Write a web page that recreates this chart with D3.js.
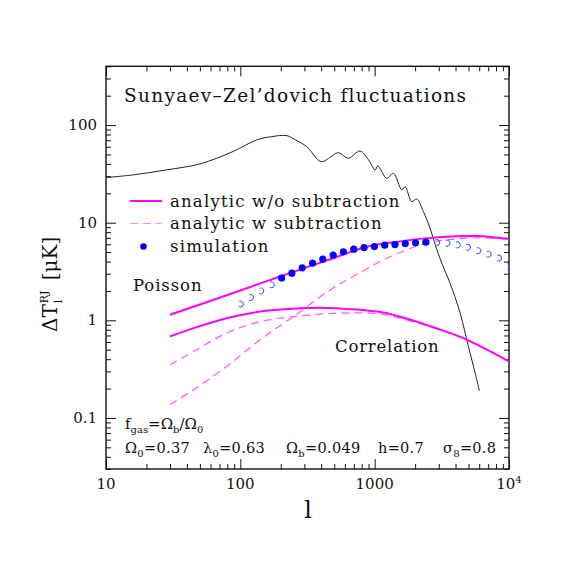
<!DOCTYPE html>
<html>
<head>
<meta charset="utf-8">
<script src="https://cdn.jsdelivr.net/npm/d3@7"></script>
<style>
  html, body { margin: 0; padding: 0; background: #fff; }
  text { font-family: "DejaVu Serif", "Liberation Serif", serif; fill: #111; }
</style>
</head>
<body>
<svg id="chart" width="575" height="575"></svg>
<script>
// primary CMB curve (black)
const cmbL = [10, 16, 28, 50, 88, 132, 170, 222, 260, 312, 399, 470, 537, 637, 778, 900, 1007, 1055, 1231, 1378, 1592, 1684, 1889, 2058, 2304, 2585, 2817, 3159, 3642, 4324, 4986, 5593, 6020];
const cmbT = [29.0, 30.9, 34.7, 40.0, 53.5, 70.4, 76, 77.9, 70, 60.1, 42.2, 47, 52.2, 45.7, 54.3, 44, 34.7, 38.1, 28.5, 32.1, 21.7, 23.4, 16.4, 17.5, 13.0, 8.8, 6.0, 3.85, 2.40, 1.19, 0.54, 0.29, 0.19];

// analytic curves
const poisL = [30, 100, 197, 400, 778, 1000, 1500, 2500, 4000, 6000, 10000];
const poisNoSub = [1.14, 2.02, 2.81, 3.92, 5.40, 5.9, 6.4, 6.95, 7.25, 7.3, 6.8];
const poisSubL = [30, 45, 79, 140, 248, 465, 655, 1100, 1460, 2585, 4000, 6000, 10000];
const poisSub = [0.137, 0.195, 0.337, 0.632, 1.09, 2.05, 2.70, 4.0, 4.8, 6.3, 6.8, 7.0, 6.8];

const corrL = [30, 45, 79, 140, 280, 450, 780, 1160, 1550, 2060, 2735, 4575, 10000];
const corrNoSub = [0.683, 0.832, 1.05, 1.23, 1.33, 1.34, 1.28, 1.2, 1.09, 0.97, 0.85, 0.657, 0.38];
const corrSub = [0.35, 0.48, 0.74, 0.97, 1.11, 1.17, 1.19, 1.15, 1.05, 0.94, 0.84, 0.65, 0.38];

// simulation points
const simL = [203, 242, 289, 345, 411, 491, 585, 699, 834, 995, 1187, 1416, 1690, 2016, 2405];
const simT = [2.71, 3.04, 3.45, 3.85, 4.23, 4.65, 5.03, 5.36, 5.56, 5.69, 5.89, 5.97, 6.11, 6.22, 6.32];
const simOpenL = [100, 119, 142, 170, 2895, 3454, 4121, 4916, 5865, 6997, 8348, 9960];
const simOpenT = [1.47, 1.71, 2.00, 2.31, 6.27, 6.17, 5.93, 5.59, 5.17, 4.76, 4.34, 3.55];

const xTicks = [10, 100, 1000, 10000];
const yTicks = [0.1, 1, 10, 100];
const yTickLabels = ["0.1", "1", "10", "100"];

const svg = d3.select("#chart");
const frame = {left: 106, right: 509, top: 66.3, bottom: 469};

const x = d3.scaleLog().domain([10, 1e4]).range([frame.left, frame.right]);
const y = d3.scaleLog().domain([0.03, 400]).range([frame.bottom, frame.top]);

const magenta = "#ff00ff";
const lightMagenta = "#ff55ff";

svg.append("clipPath").attr("id", "plot")
  .append("rect").attr("x", frame.left).attr("y", frame.top)
  .attr("width", frame.right - frame.left).attr("height", frame.bottom - frame.top);

// minor tick values
const minorX = [];
for (let d = 10; d < 1e4; d *= 10) for (let k = 2; k <= 9; k++) minorX.push(d * k);
const minorY = [];
for (let d = 0.01; d < 1000; d *= 10) for (let k = 2; k <= 9; k++) {
  const v = +(d * k).toPrecision(3);
  if (v >= 0.03 && v <= 400) minorY.push(v);
}

function tickRow(gen, pos, len, vals) {
  svg.append("g").attr("transform", pos)
    .call(gen.tickValues(vals).tickSizeInner(len).tickSizeOuter(0).tickFormat(""))
    .call(g => g.select(".domain").remove())
    .call(g => g.selectAll("line").attr("stroke", "#111").attr("stroke-width", 1));
}
tickRow(d3.axisBottom(x), `translate(0,${frame.bottom})`, -10, xTicks);
tickRow(d3.axisBottom(x), `translate(0,${frame.bottom})`, -5, minorX);
tickRow(d3.axisTop(x), `translate(0,${frame.top})`, -10, xTicks);
tickRow(d3.axisTop(x), `translate(0,${frame.top})`, -5, minorX);
tickRow(d3.axisLeft(y), `translate(${frame.left},0)`, -10, yTicks);
tickRow(d3.axisLeft(y), `translate(${frame.left},0)`, -5, minorY);
tickRow(d3.axisRight(y), `translate(${frame.right},0)`, -10, yTicks);
tickRow(d3.axisRight(y), `translate(${frame.right},0)`, -5, minorY);

svg.append("rect").attr("x", frame.left).attr("y", frame.top)
  .attr("width", frame.right - frame.left).attr("height", frame.bottom - frame.top)
  .attr("fill", "none").attr("stroke", "#111").attr("stroke-width", 1.4);

// tick labels
xTicks.forEach(v => {
  const t = svg.append("text").attr("x", x(v)).attr("y", 489)
    .attr("text-anchor", "middle").attr("font-size", 15);
  if (v === 10000) {
    t.append("tspan").text("10");
    t.append("tspan").text("4").attr("font-size", 10).attr("dy", -6);
  } else t.text(v);
});
yTicks.forEach((v, i) => {
  svg.append("text").attr("x", 97).attr("y", y(v) + 5)
    .attr("text-anchor", "end").attr("font-size", 15).text(yTickLabels[i]);
});

// axis titles
svg.append("text").attr("x", 308).attr("y", 518).attr("text-anchor", "middle")
  .attr("font-size", 24).text("l");

const yl = svg.append("g").attr("transform", "translate(57,332) rotate(-90)");
const dt = yl.append("text").attr("x", 0).attr("y", 0).attr("font-size", 20).text("ΔT");
const dtw = dt.node().getComputedTextLength();
yl.append("text").attr("x", dtw + 1).attr("y", -9).attr("font-size", 11).text("RJ");
yl.append("text").attr("x", dtw + 1).attr("y", 5).attr("font-size", 11).text("l");
yl.append("text").attr("x", dtw + 24).attr("y", 0).attr("font-size", 20).text("[μK]");

// curves
const plot = svg.append("g").attr("clip-path", "url(#plot)");
const line = d3.line().x(d => x(d[0])).y(d => y(d[1])).curve(d3.curveCatmullRom.alpha(0.5));

plot.append("path").datum(d3.zip(cmbL, cmbT)).attr("d", line)
  .attr("fill", "none").attr("stroke", "#222").attr("stroke-width", 1);

[[poisSubL, poisSub], [corrL, corrSub]].forEach(([ls, vs]) => {
  plot.append("path").datum(d3.zip(ls, vs)).attr("d", line)
    .attr("fill", "none").attr("stroke", lightMagenta).attr("stroke-width", 1.2)
    .attr("stroke-dasharray", "8,5");
});
[[poisL, poisNoSub], [corrL, corrNoSub]].forEach(([ls, vs]) => {
  plot.append("path").datum(d3.zip(ls, vs)).attr("d", line)
    .attr("fill", "none").attr("stroke", magenta).attr("stroke-width", 2);
});

plot.selectAll("circle.sim").data(d3.zip(simL, simT)).join("circle")
  .attr("class", "sim").attr("cx", d => x(d[0])).attr("cy", d => y(d[1]))
  .attr("r", 3.6).attr("fill", "#0000ff");

const openArc = d3.arc().innerRadius(2.5).outerRadius(3.4)
  .startAngle(-0.15 * Math.PI).endAngle(1.2 * Math.PI);
plot.selectAll("path.open").data(d3.zip(simOpenL, simOpenT)).join("path")
  .attr("class", "open").attr("d", openArc)
  .attr("transform", d => `translate(${x(d[0])},${y(d[1])})`)
  .attr("fill", "#3050ff");

// title and labels
svg.append("text").attr("x", 124).attr("y", 102).attr("font-size", 18.5)
  .attr("letter-spacing", 1.3)
  .text("Sunyaev–Zel’dovich fluctuations");

const legend = [
  {label: "analytic w/o subtraction", y: 201, kind: "solid"},
  {label: "analytic w subtraction", y: 223.5, kind: "dash"},
  {label: "simulation", y: 246.5, kind: "dot"}
];
legend.forEach(l => {
  if (l.kind === "dot") {
    svg.append("circle").attr("cx", 143.5).attr("cy", l.y).attr("r", 3.3).attr("fill", "#0000ff");
  } else {
    svg.append("line").attr("x1", 130).attr("x2", 162).attr("y1", l.y).attr("y2", l.y)
      .attr("stroke", l.kind === "solid" ? magenta : "#ff88ff")
      .attr("stroke-width", l.kind === "solid" ? 2 : 1.2)
      .attr("stroke-dasharray", l.kind === "solid" ? null : "8,5");
  }
  svg.append("text").attr("x", 170).attr("y", l.y + 5.5).attr("font-size", 16.5)
    .attr("letter-spacing", 1.2).text(l.label);
});

svg.append("text").attr("x", 133).attr("y", 291).attr("font-size", 16.5)
  .attr("letter-spacing", 0.9).text("Poisson");
svg.append("text").attr("x", 335).attr("y", 352).attr("font-size", 16.5)
  .attr("letter-spacing", 0.8).text("Correlation");

// main symbol with a subscript; the next piece must come back up by 4
function sub(t, main, s) {
  t.append("tspan").text(main);
  t.append("tspan").text(s).attr("font-size", 10).attr("dy", 4);
}
const fg = svg.append("text").attr("x", 125).attr("y", 429).attr("font-size", 15);
sub(fg, "f", "gas");
fg.append("tspan").text("=").attr("dy", -4);
sub(fg, "Ω", "b");
fg.append("tspan").text("/").attr("dy", -4);
sub(fg, "Ω", "0");

const params = [
  {x: 125, m: "Ω", s: "0", v: "=0.37"},
  {x: 203, m: "λ", s: "0", v: "=0.63"},
  {x: 286, m: "Ω", s: "b", v: "=0.049"},
  {x: 378, m: "h", s: "", v: "=0.7"},
  {x: 443, m: "σ", s: "8", v: "=0.8"}
];
params.forEach(p => {
  const t = svg.append("text").attr("x", p.x).attr("y", 453).attr("font-size", 14.5)
    .attr("letter-spacing", 0.3);
  if (p.s) {
    sub(t, p.m, p.s);
    t.append("tspan").text(p.v).attr("dy", -4);
  } else {
    t.append("tspan").text(p.m + p.v);
  }
});
</script>
</body>
</html>
